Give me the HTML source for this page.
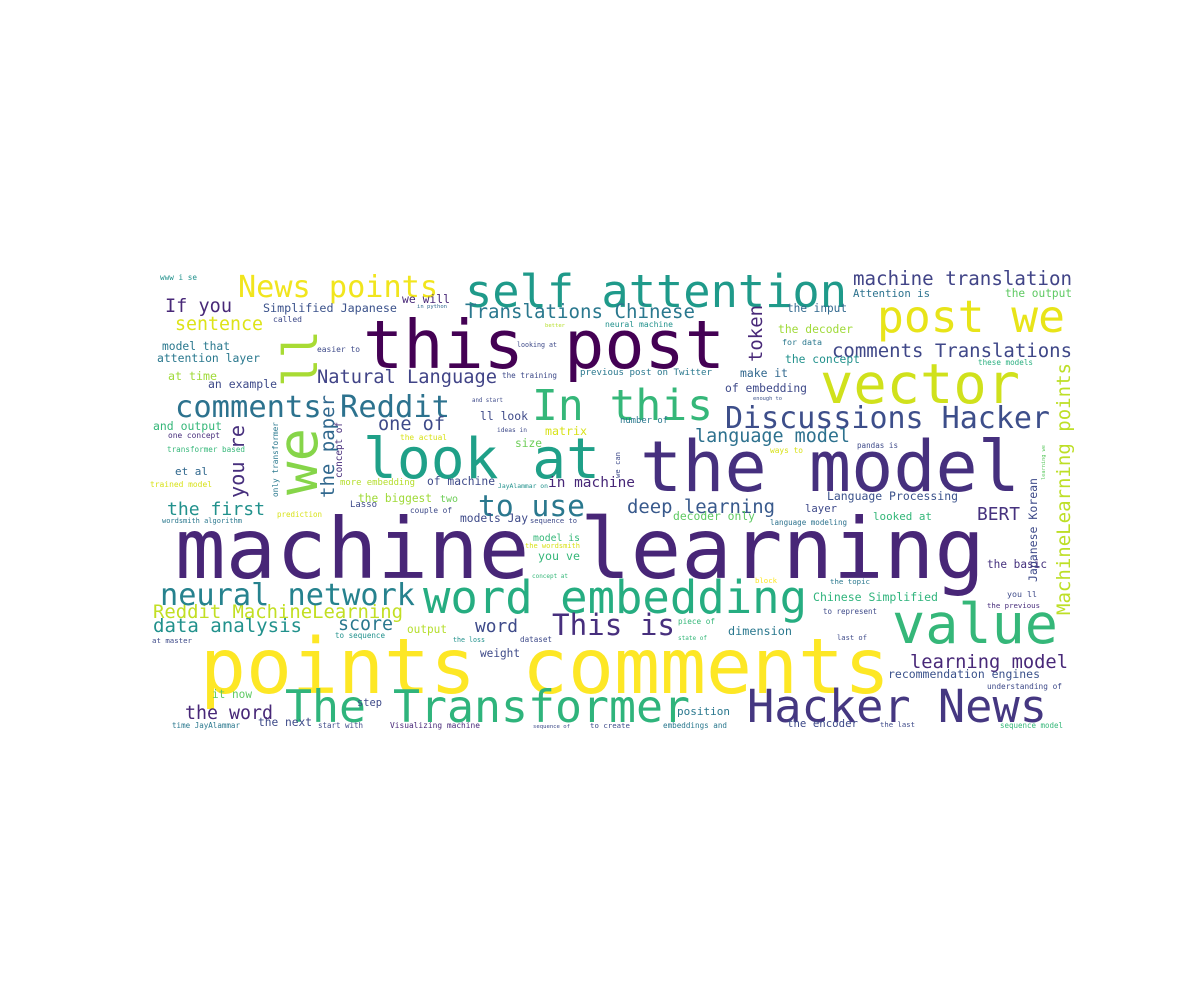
<!DOCTYPE html>
<html><head><meta charset="utf-8">
<style>
html,body{margin:0;padding:0;background:#fff;}
svg{display:block;}
text{font-family:"DejaVu Sans Mono","Liberation Mono",monospace;}
</style></head>
<body>
<svg id="cloud" width="1200" height="1000" viewBox="0 0 1200 1000" xmlns="http://www.w3.org/2000/svg">
<rect x="0" y="0" width="1200" height="1000" fill="#ffffff"/>
<g id="words"></g>
</svg>
<script>
// [text, x, baseline-y, length, color, vertical]
const words = [
["machine learning",175,578,810,"#482677",0],
["points comments",200,693,690,"#fde725",0],
["this post",363,368,362,"#440154",0],
["the model",640,491,380,"#46307e",0],
["self attention",465,307,382,"#1f9a8a",0],
["look at",363,478,237,"#1fa088",0],
["In this",532,420,181,"#35b779",0],
["vector",820,403,200,"#d0e11c",0],
["post we",877,332,188,"#e8e419",0],
["machine translation",853,285,219,"#414487",0],
["Attention is",853,297,77,"#2c728e",0],
["the output",1005,297,67,"#5ec962",0],
["Translations Chinese",465,318,230,"#2a788e",0],
["token",762,362,57,"#482878",1],
["comments Translations",832,357,240,"#3f4788",0],
["the input",787,312,60,"#31688e",0],
["the decoder",778,333,75,"#a0da39",0],
["for data",782,345,40,"#2a788e",0],
["the concept",785,363,75,"#21918c",0],
["make it",740,377,48,"#31688e",0],
["of embedding",725,392,82,"#3e4989",0],
["enough to",753,400,29,"#3b528b",0],
["Discussions Hacker",725,428,325,"#3d4e8a",0],
["language model",695,442,155,"#2d718e",0],
["these models",978,365,55,"#29af7f",0],
["MachineLearning points",1070,615,252,"#bddf26",1],
["Japanese Korean",1037,582,104,"#3e4a89",1],
["learning we",1045,480,35,"#5ec962",1],
["pandas is",857,448,41,"#3e4a89",0],
["ways to",770,453,33,"#d8e219",0],
["Language Processing",827,500,131,"#3b528b",0],
["deep learning",627,513,148,"#38598c",0],
["decoder only",673,520,82,"#5ec962",0],
["layer",805,512,32,"#3e4989",0],
["language modeling",770,525,77,"#2c728e",0],
["looked at",873,520,59,"#35b779",0],
["BERT",977,520,43,"#46327e",0],
["the basic",987,568,60,"#46327e",0],
["block",755,583,22,"#fde725",0],
["the topic",830,584,40,"#2a788e",0],
["Chinese Simplified",813,601,125,"#2fb47c",0],
["you ll",1007,597,30,"#3e4a89",0],
["the previous",987,608,53,"#472d7b",0],
["to represent",823,614,54,"#3e4a89",0],
["value",892,643,166,"#35b779",0],
["word embedding",423,613,384,"#26ad81",0],
["This is",552,635,123,"#472f7d",0],
["piece of",678,624,37,"#35b779",0],
["dimension",728,635,64,"#2a788e",0],
["state of",678,640,29,"#35b779",0],
["last of",837,640,30,"#3e4a89",0],
["learning model",910,668,158,"#482878",0],
["recommendation engines",888,678,152,"#3b528b",0],
["understanding of",987,689,75,"#3e4a89",0],
["Hacker News",747,722,300,"#453781",0],
["The Transformer",285,722,405,"#2fb47c",0],
["position",677,715,53,"#2a788e",0],
["embeddings and",663,728,64,"#2a788e",0],
["the encoder",787,727,71,"#3e4a89",0],
["the last",880,727,35,"#3e4a89",0],
["sequence model",1000,728,63,"#35b779",0],
["Visualizing machine",390,728,90,"#482878",0],
["sequence of",533,728,37,"#3e4a89",0],
["to create",590,728,40,"#3e4a89",0],
["start with",318,728,45,"#3e4a89",0],
["the next",258,726,54,"#3e4a89",0],
["time JayAlammar",172,728,68,"#2a788e",0],
["the word",185,719,88,"#482878",0],
["step",357,706,25,"#3e4a89",0],
["it now",212,698,40,"#5ec962",0],
["weight",480,657,40,"#3e4a89",0],
["dataset",520,642,32,"#3e4a89",0],
["the loss",453,642,32,"#21918c",0],
["to sequence",335,638,50,"#21918c",0],
["output",407,633,40,"#b5de2b",0],
["word",475,632,43,"#3e4a89",0],
["score",338,630,55,"#2a788e",0],
["data analysis",153,632,149,"#21918c",0],
["Reddit MachineLearning",153,618,250,"#c2df23",0],
["neural network",160,605,255,"#26828e",0],
["at master",152,643,40,"#3e4a89",0],
["the first",167,515,98,"#21918c",0],
["to use",478,516,107,"#2a788e",0],
["the biggest",358,502,74,"#a0da39",0],
["two",440,502,18,"#6ece58",0],
["prediction",277,517,45,"#d8e219",0],
["Lasso",350,507,27,"#3e4a89",0],
["couple of",410,513,42,"#3e4a89",0],
["models Jay",460,522,68,"#3e4a89",0],
["sequence to",530,523,47,"#3e4a89",0],
["wordsmith algorithm",162,523,80,"#2a788e",0],
["model is",533,541,47,"#35b779",0],
["the wordsmith",525,548,55,"#d8e219",0],
["you ve",538,560,42,"#35b779",0],
["concept at",532,578,36,"#35b779",0],
["only transformer",278,497,75,"#2a788e",1],
["concept of",342,478,56,"#472d7b",1],
["you re",244,498,73,"#472f7d",1],
["the paper",334,498,103,"#31688e",1],
["we",317,495,67,"#86d549",1],
["ll",317,387,57,"#a8db34",1],
["comments Reddit",175,417,275,"#2c728e",0],
["Natural Language",317,383,180,"#414487",0],
["an example",208,388,69,"#3e4a89",0],
["at time",168,380,49,"#a0da39",0],
["attention layer",157,362,103,"#2a788e",0],
["model that",162,350,68,"#2a788e",0],
["sentence",175,330,88,"#dde318",0],
["If you",165,312,67,"#482878",0],
["News points",238,297,200,"#f1e51d",0],
["we will",402,303,48,"#482878",0],
["Simplified Japanese",263,312,134,"#3b528b",0],
["in python",417,308,30,"#31688e",0],
["called",273,322,29,"#3e4a89",0],
["easier to",317,352,43,"#3e4a89",0],
["better",545,327,20,"#b5de2b",0],
["neural machine",605,327,68,"#21918c",0],
["looking at",517,347,40,"#3e4a89",0],
["the training",502,378,55,"#3e4a89",0],
["previous post on Twitter",580,375,132,"#2a788e",0],
["and start",472,402,31,"#3e4a89",0],
["ll look",480,420,48,"#3e4a89",0],
["one of",378,430,67,"#3e4a89",0],
["ideas in",497,432,30,"#3e4a89",0],
["matrix",545,435,42,"#d8e219",0],
["the actual",400,440,47,"#d8e219",0],
["size",515,447,27,"#6ece58",0],
["and output",153,430,69,"#35b779",0],
["one concept",168,438,52,"#472d7b",0],
["transformer based",167,452,78,"#35b779",0],
["et al",175,475,33,"#31688e",0],
["trained model",150,487,62,"#d8e219",0],
["more embedding",340,485,75,"#b5de2b",0],
["of machine",427,485,68,"#3e4a89",0],
["JayAlammar on",498,488,50,"#21918c",0],
["in machine",548,487,87,"#482878",0],
["number of",620,423,48,"#2a788e",0],
["we can",620,478,26,"#3e4a89",1],
["www i se",160,280,37,"#21918c",0]
];
const g = document.getElementById('words');
const NS = 'http://www.w3.org/2000/svg';
words.forEach(function(w){
  const t = document.createElementNS(NS,'text');
  const n = w[0].length;
  const fs = w[3]/(n*0.602);
  t.setAttribute('font-size', fs.toFixed(2));
  t.setAttribute('fill', w[4]);
  t.setAttribute('textLength', w[3]);
  t.setAttribute('lengthAdjust', 'spacingAndGlyphs');
  if (w[5]) {
    t.setAttribute('transform', 'translate(' + w[1] + ',' + w[2] + ') rotate(-90)');
    t.setAttribute('x', 0);
    t.setAttribute('y', 0);
  } else {
    t.setAttribute('x', w[1]);
    t.setAttribute('y', w[2]);
  }
  t.textContent = w[0];
  
  
  g.appendChild(t);
});
</script>
</body></html>
